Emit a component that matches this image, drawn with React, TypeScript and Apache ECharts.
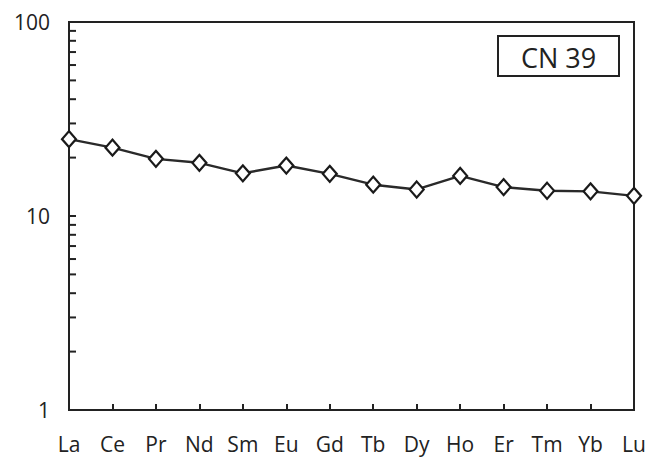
import React, { useEffect, useRef } from "react";
import * as echarts from "echarts";

const categories = ["La", "Ce", "Pr", "Nd", "Sm", "Eu", "Gd", "Tb", "Dy", "Ho", "Er", "Tm", "Yb", "Lu"];
const values = [24.9, 22.5, 19.7, 18.8, 16.6, 18.2, 16.5, 14.5, 13.7, 16.1, 14.1, 13.5, 13.4, 12.7];
const sampleLabel = "CN 39";
const minorTickValues = [2, 3, 4, 5, 6, 7, 8, 9, 20, 30, 40, 50, 60, 70, 80, 90];

const FONT = "'Open Sans', 'DejaVu Sans', sans-serif";
const INK = "#222";

export default function App() {
  const ref = useRef<HTMLDivElement>(null);
  useEffect(() => {
    if (!ref.current) return;
    const chart = echarts.init(ref.current, null, { renderer: "svg" });
    const option: any = {
      animation: false,
      backgroundColor: "#ffffff",
      grid: { left: 69, right: 16, top: 22, bottom: 48, show: true, borderColor: INK, borderWidth: 2, backgroundColor: "transparent" },
      xAxis: {
        type: "category",
        data: categories,
        boundaryGap: false,
        axisLine: { lineStyle: { color: INK, width: 2 } },
        axisTick: { inside: true, length: 6, lineStyle: { color: INK, width: 2 } },
        axisLabel: { color: INK, fontFamily: FONT, fontSize: 21, margin: 23 },
        splitLine: { show: false },
      },
      yAxis: {
        type: "log",
        logBase: 10,
        min: 1,
        max: 100,
        axisLine: { show: true, lineStyle: { color: INK, width: 2 } },
        axisTick: { show: true, inside: true, length: 7, lineStyle: { color: INK, width: 2 } },
        axisLabel: { color: INK, fontFamily: FONT, fontSize: 21, margin: 19 },
        splitLine: { show: false },
      },
      series: [
        {
          type: "line",
          data: values,
          symbol: "diamond",
          symbolSize: [14, 16],
          showAllSymbol: true,
          lineStyle: { color: "#2a2a2a", width: 2.4 },
          itemStyle: { color: "#ffffff", borderColor: "#1a1a1a", borderWidth: 2.2 },
          z: 3,
        },
      ],
    };
    chart.setOption(option);

    const elements: any[] = [];
    minorTickValues.forEach((v) => {
      const p = chart.convertToPixel({ yAxisIndex: 0 }, v) as number;
      const x0 = chart.convertToPixel({ xAxisIndex: 0 }, categories[0]) as number;
      elements.push({
        type: "line",
        shape: { x1: x0, y1: p, x2: x0 + 7, y2: p },
        style: { stroke: INK, lineWidth: 2 },
        silent: true,
      });
    });
    elements.push({
      type: "group",
      right: 30,
      top: 35,
      children: [
        { type: "rect", shape: { x: 0, y: 0, width: 121, height: 40 }, style: { fill: "#fff", stroke: INK, lineWidth: 2 } },
        {
          type: "text",
          x: 60.5,
          y: 21,
          style: { text: sampleLabel, fill: INK, font: `27px ${FONT}`, align: "center", verticalAlign: "middle" },
        },
      ],
    });
    chart.setOption({ graphic: { elements } });

    return () => chart.dispose();
  }, []);
  return <div ref={ref} style={{ position: "fixed", left: 0, top: 0, width: 650, height: 458 }} />;
}
